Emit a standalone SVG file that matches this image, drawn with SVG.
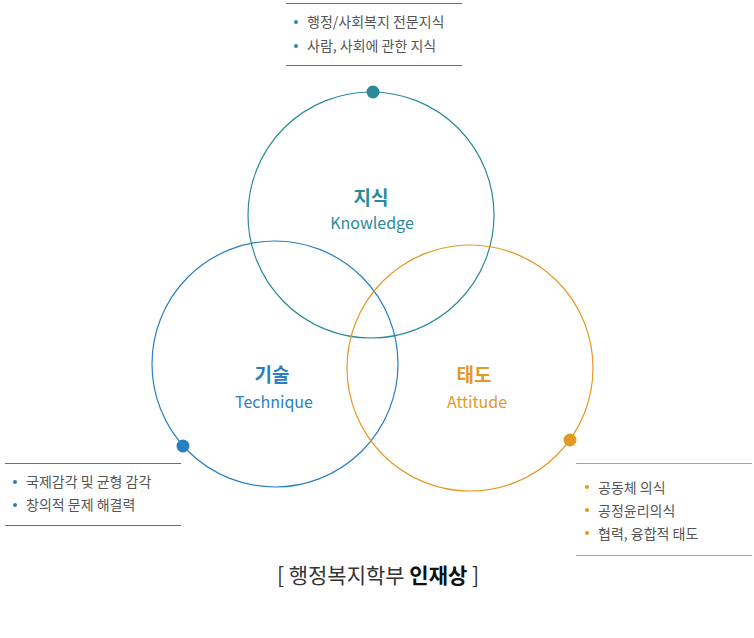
<svg xmlns="http://www.w3.org/2000/svg" width="754" height="638" viewBox="0 0 754 638">
<style>
text{font-family:"Noto Sans CJK KR","Noto Sans",sans-serif}
.li{font-size:14px;fill:#555}
.c{fill:none;stroke-width:1.2}
.t{font-size:19px;font-weight:bold;text-anchor:middle}
.e{font-size:16px;text-anchor:middle}
</style>
<rect width="754" height="638" fill="#fff"/>
<g id="connectors">
<line x1="286" y1="3.5" x2="462" y2="3.5" stroke="#2b8a9a" stroke-width="1.2"/>
<line x1="286" y1="65.5" x2="462" y2="65.5" stroke="#2b8a9a" stroke-width="1.2"/>
<line x1="5" y1="463.5" x2="181" y2="463.5" stroke="#2a7fc0" stroke-width="1.2"/>
<line x1="5" y1="525.5" x2="181" y2="525.5" stroke="#2a7fc0" stroke-width="1.2"/>
<line x1="576" y1="463.5" x2="752" y2="463.5" stroke="#e29a25" stroke-width="1.2"/>
<line x1="576" y1="555.5" x2="752" y2="555.5" stroke="#e29a25" stroke-width="1.2"/>
</g>
<g id="knowledge">
<circle class="c" cx="371" cy="215" r="123" stroke="#2b8a9a"/>
<circle cx="373" cy="92" r="6.5" fill="#2b8a9a"/>
<text class="t" x="371" y="205" fill="#2b8a9a">지식</text>
<text class="e" x="372" y="229" fill="#2b8a9a">Knowledge</text>
<circle cx="296" cy="22" r="2" fill="#2b8a9a"/><text class="li" x="307" y="27">행정/사회복지 전문지식</text>
<circle cx="296" cy="46" r="2" fill="#2b8a9a"/><text class="li" x="307" y="51">사람, 사회에 관한 지식</text>
</g>
<g id="technique">
<circle class="c" cx="275" cy="364" r="123" stroke="#2a7fc0"/>
<circle cx="183" cy="446" r="6.5" fill="#2a7fc0"/>
<text class="t" x="272" y="382" fill="#2a7fc0">기술</text>
<text class="e" x="274" y="408" fill="#2a7fc0">Technique</text>
<circle cx="15" cy="482" r="2" fill="#2a7fc0"/><text class="li" x="26" y="487">국제감각 및 균형 감각</text>
<circle cx="15" cy="505" r="2" fill="#2a7fc0"/><text class="li" x="26" y="510">창의적 문제 해결력</text>
</g>
<g id="attitude">
<circle class="c" cx="470" cy="368" r="123" stroke="#e29a25"/>
<circle cx="570" cy="440" r="6.5" fill="#e29a25"/>
<text class="t" x="474" y="382" fill="#e29a25">태도</text>
<text class="e" x="477" y="408" fill="#e29a25">Attitude</text>
<circle cx="587" cy="487" r="2" fill="#e29a25"/><text class="li" x="598" y="493">공동체 의식</text>
<circle cx="587" cy="510" r="2" fill="#e29a25"/><text class="li" x="598" y="516">공정윤리의식</text>
<circle cx="587" cy="533" r="2" fill="#e29a25"/><text class="li" x="598" y="539">협력, 융합적 태도</text>
</g>
<g id="title">
<text x="378" y="583" font-size="21" text-anchor="middle" fill="#333">[  행정복지학부 <tspan font-weight="bold" fill="#111">인재상</tspan>  ]</text>
</g>
</svg>
